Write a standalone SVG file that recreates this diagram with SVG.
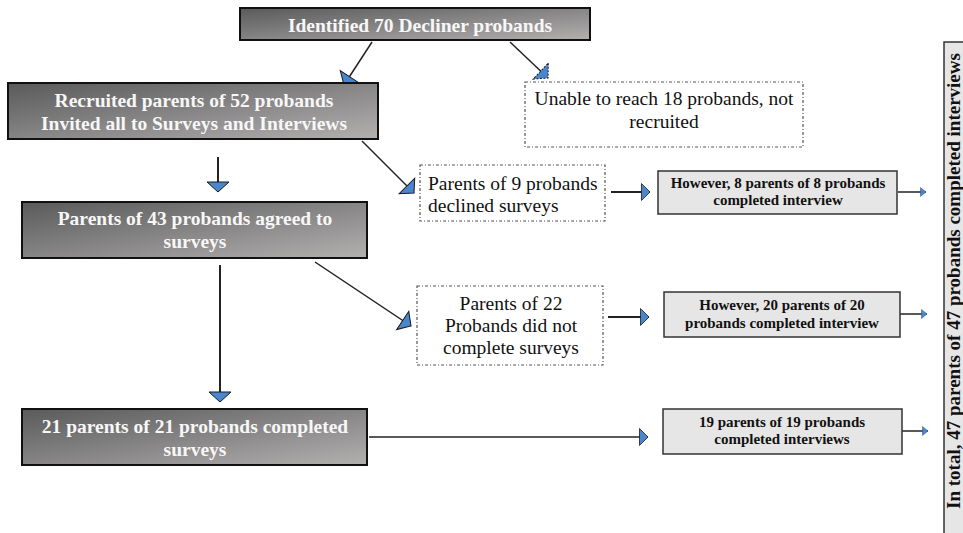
<svg xmlns="http://www.w3.org/2000/svg" width="963" height="533" viewBox="0 0 963 533">
<style>
.dark{fill:url(#g);stroke:#111;stroke-width:2}
.light{fill:#e6e6e6;stroke:#333;stroke-width:1.5}
.dash{fill:#fff;stroke:#555;stroke-width:1.2;stroke-dasharray:3 2 1 2}
.tw{font-family:"Liberation Serif","Times New Roman",serif;font-weight:bold;font-size:19.5px;fill:#f7f7f7;text-anchor:middle}
.tr{font-family:"Liberation Serif","Times New Roman",serif;font-size:19.5px;fill:#111}
.ts{font-family:"Liberation Serif","Times New Roman",serif;font-weight:bold;font-size:15px;fill:#111;text-anchor:middle}
.tb{font-family:"Liberation Serif","Times New Roman",serif;font-weight:bold;font-size:19px;fill:#111;text-anchor:middle}
.ln{fill:none;stroke:#222;stroke-width:1.5}
.lv{fill:none;stroke:#222;stroke-width:2}
</style>
<defs>
<linearGradient id="g" x1="0" y1="0" x2="1" y2="1">
<stop offset="0" stop-color="#5a5a5a"/>
<stop offset="1" stop-color="#b3b0b0"/>
</linearGradient>
<marker id="ah" markerUnits="userSpaceOnUse" markerWidth="14" markerHeight="26" refX="11" refY="12" orient="auto" overflow="visible">
<path d="M1,1 L11,12 L1,23 Z" fill="#4a86cc" stroke="#1a1a1a" stroke-width="1"/>
</marker>
<marker id="ahd" markerUnits="userSpaceOnUse" markerWidth="14" markerHeight="26" refX="11" refY="12" orient="auto" overflow="visible">
<path d="M1,1 L11,12 L1,23 Z" fill="#4a86cc" stroke="#1a1a1a" stroke-width="1" stroke-dasharray="2 1.5"/>
</marker>
<marker id="am" markerUnits="userSpaceOnUse" markerWidth="12" markerHeight="20" refX="9" refY="9" orient="auto" overflow="visible">
<path d="M0.5,0.5 L9,9 L0.5,17.5 Z" fill="#4a86cc" stroke="#1a1a1a" stroke-width="0.8"/>
</marker>
<marker id="as" markerUnits="userSpaceOnUse" markerWidth="8" markerHeight="12" refX="6" refY="5" orient="auto" overflow="visible">
<path d="M0.5,0.5 L6,5 L0.5,9.5 Z" fill="#4a86cc" stroke="#2a4a80" stroke-width="0.5"/>
</marker>
</defs>
<rect width="963" height="533" fill="#fff"/>
<g id="connectors">
<line class="ln" x1="372" y1="42" x2="344" y2="85" marker-end="url(#ah)"/>
<line class="ln" x1="510" y1="42" x2="548" y2="78" marker-end="url(#ahd)"/>
<line class="lv" x1="218" y1="157" x2="218" y2="192" marker-end="url(#ah)"/>
<line class="ln" x1="362" y1="141" x2="414" y2="193" marker-end="url(#ah)"/>
<line class="lv" x1="611" y1="192" x2="650" y2="192" marker-end="url(#am)"/>
<line class="ln" x1="898" y1="192" x2="926" y2="192" marker-end="url(#as)"/>
<line class="lv" x1="220" y1="265" x2="220" y2="402" marker-end="url(#ah)"/>
<line class="ln" x1="315" y1="262" x2="411" y2="326" marker-end="url(#ah)"/>
<line class="lv" x1="608" y1="317" x2="649" y2="317" marker-end="url(#am)"/>
<line class="ln" x1="900" y1="314" x2="927" y2="314" marker-end="url(#as)"/>
<line class="ln" x1="369" y1="437" x2="648" y2="437" marker-end="url(#am)"/>
<line class="ln" x1="902" y1="431" x2="928" y2="431" marker-end="url(#as)"/>
</g>
<g id="n-identified">
<rect class="dark" x="240" y="8" width="350" height="32"/>
<text class="tw" x="420" y="32">Identified 70 Decliner probands</text>
</g>
<g id="n-unable">
<rect class="dash" x="525" y="82" width="278" height="65"/>
<text class="tr" x="664" y="105" text-anchor="middle">Unable to reach 18 probands, not</text>
<text class="tr" x="664" y="128" text-anchor="middle">recruited</text>
</g>
<g id="n-recruited">
<rect class="dark" x="8" y="83" width="370" height="56"/>
<text class="tw" x="194" y="107">Recruited parents of 52 probands</text>
<text class="tw" x="194" y="130">Invited all to Surveys and Interviews</text>
</g>
<g id="n-declined">
<rect class="dash" x="420" y="165" width="185" height="56"/>
<text class="tr" x="428" y="190">Parents of 9 probands</text>
<text class="tr" x="428" y="212">declined surveys</text>
</g>
<g id="n-8parents">
<rect class="light" x="658" y="171" width="239" height="43"/>
<text class="ts" x="778" y="188">However, 8 parents of 8 probands</text>
<text class="ts" x="778" y="205">completed interview</text>
</g>
<g id="n-agreed">
<rect class="dark" x="22" y="202" width="345" height="56"/>
<text class="tw" x="195" y="225">Parents of 43 probands agreed to</text>
<text class="tw" x="195" y="248">surveys</text>
</g>
<g id="n-notcomplete">
<rect class="dash" x="417" y="286" width="186" height="79"/>
<text class="tr" x="511" y="310" text-anchor="middle">Parents of 22</text>
<text class="tr" x="511" y="332" text-anchor="middle">Probands did not</text>
<text class="tr" x="511" y="354" text-anchor="middle">complete surveys</text>
</g>
<g id="n-20parents">
<rect class="light" x="664" y="292" width="236" height="45"/>
<text class="ts" x="782" y="310">However, 20 parents of 20</text>
<text class="ts" x="782" y="328">probands completed interview</text>
</g>
<g id="n-completed">
<rect class="dark" x="22" y="409" width="345" height="56"/>
<text class="tw" x="195" y="433">21 parents of 21 probands completed</text>
<text class="tw" x="195" y="456">surveys</text>
</g>
<g id="n-19parents">
<rect class="light" x="663" y="409" width="239" height="45"/>
<text class="ts" x="782" y="427">19 parents of 19 probands</text>
<text class="ts" x="782" y="444">completed interviews</text>
</g>
<g id="n-total">
<rect class="light" x="944" y="42" width="30" height="500"/>
<text class="tb" transform="translate(960,281) rotate(-90)">In total, 47 parents of 47 probands completed interviews</text>
</g>
</svg>
